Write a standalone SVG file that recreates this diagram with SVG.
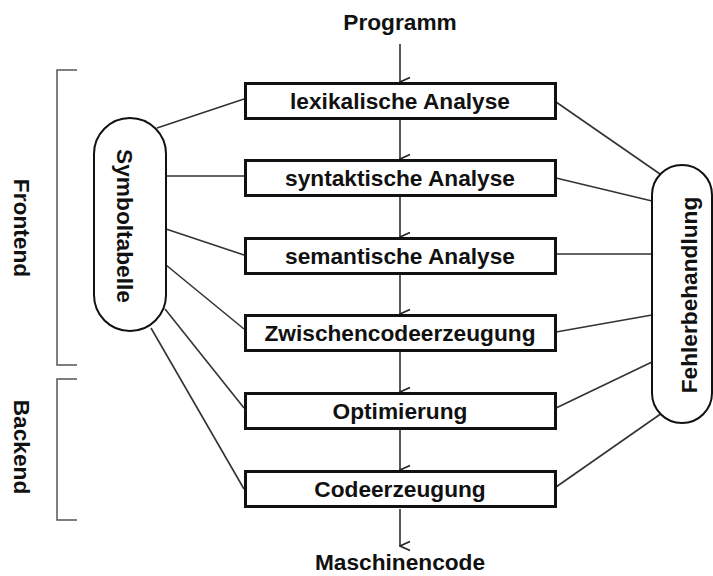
<svg xmlns="http://www.w3.org/2000/svg" width="713" height="576" viewBox="0 0 713 576">
<defs>
<marker id="arr" markerWidth="12" markerHeight="12" refX="6" refY="11" orient="auto" markerUnits="userSpaceOnUse" viewBox="0 0 12 12">
<path d="M1.5,1 L6,11 L10.5,1" fill="none" stroke="#222" stroke-width="1.6"/>
</marker>
<style>
text{font-family:"Liberation Sans",Arial,sans-serif;font-weight:bold;font-size:22.7px;fill:#111;}
.box{fill:#fff;stroke:#111;stroke-width:3;}
.pill{fill:#fff;stroke:#111;stroke-width:2;}
.con{stroke:#333;stroke-width:1.6;fill:none;}
.flow{stroke:#222;stroke-width:1.5;fill:none;marker-end:url(#arr);}
.br{stroke:#555;stroke-width:1.5;fill:none;}
.c{text-anchor:middle;}
</style>
</defs>
<rect width="713" height="576" fill="#fff"/>

<g id="brackets">
<path class="br" d="M77,70 H57 V365 H77"/>
<path class="br" d="M77,379 H57 V520 H77"/>
<text class="c" transform="translate(14,228) rotate(90)">Frontend</text>
<text class="c" transform="translate(14,447) rotate(90)">Backend</text>
</g>

<g id="connectors">
<line class="flow" x1="400" y1="44" x2="400" y2="82"/>
<line class="flow" x1="400" y1="120" x2="400" y2="159"/>
<line class="flow" x1="400" y1="197" x2="400" y2="237"/>
<line class="flow" x1="400" y1="275" x2="400" y2="314"/>
<line class="flow" x1="400" y1="352" x2="400" y2="392"/>
<line class="flow" x1="400" y1="430" x2="400" y2="470"/>
<line class="flow" x1="400" y1="509" x2="400" y2="546"/>
<line class="con" x1="157" y1="128" x2="244" y2="99"/>
<line class="con" x1="166" y1="176" x2="244" y2="176"/>
<line class="con" x1="166" y1="229" x2="244" y2="255"/>
<line class="con" x1="166" y1="265" x2="244" y2="329"/>
<line class="con" x1="165" y1="309" x2="244" y2="408"/>
<line class="con" x1="151" y1="328" x2="244" y2="489"/>
<line class="con" x1="556" y1="102" x2="660" y2="174"/>
<line class="con" x1="556" y1="178" x2="652" y2="201"/>
<line class="con" x1="556" y1="254" x2="652" y2="254"/>
<line class="con" x1="556" y1="332" x2="652" y2="315"/>
<line class="con" x1="556" y1="408" x2="652" y2="362"/>
<line class="con" x1="556" y1="487" x2="662" y2="413"/>
</g>

<g id="programm"><text class="c" x="400" y="30">Programm</text></g>
<g id="maschinencode"><text class="c" x="400" y="570">Maschinencode</text></g>

<g id="lex"><rect class="box" x="245.5" y="83.5" width="310" height="35"/><text class="c" x="400" y="109">lexikalische Analyse</text></g>
<g id="syn"><rect class="box" x="245.5" y="160.5" width="310" height="35"/><text class="c" x="400" y="186">syntaktische Analyse</text></g>
<g id="sem"><rect class="box" x="245.5" y="238.5" width="310" height="35"/><text class="c" x="400" y="264">semantische Analyse</text></g>
<g id="zwi"><rect class="box" x="245.5" y="315.5" width="310" height="35"/><text class="c" x="400" y="341">Zwischencodeerzeugung</text></g>
<g id="opt"><rect class="box" x="245.5" y="393.5" width="310" height="35"/><text class="c" x="400" y="419">Optimierung</text></g>
<g id="code"><rect class="box" x="245.5" y="471.5" width="310" height="35"/><text class="c" x="400" y="497">Codeerzeugung</text></g>

<g id="symboltabelle"><rect class="pill" x="94" y="118" width="72" height="213" rx="36" ry="36"/><text class="c" transform="translate(117,226) rotate(90)">Symboltabelle</text></g>
<g id="fehlerbehandlung"><rect class="pill" x="652" y="165" width="60" height="258" rx="30" ry="30"/><text class="c" transform="translate(697,295) rotate(-90)">Fehlerbehandlung</text></g>
</svg>
